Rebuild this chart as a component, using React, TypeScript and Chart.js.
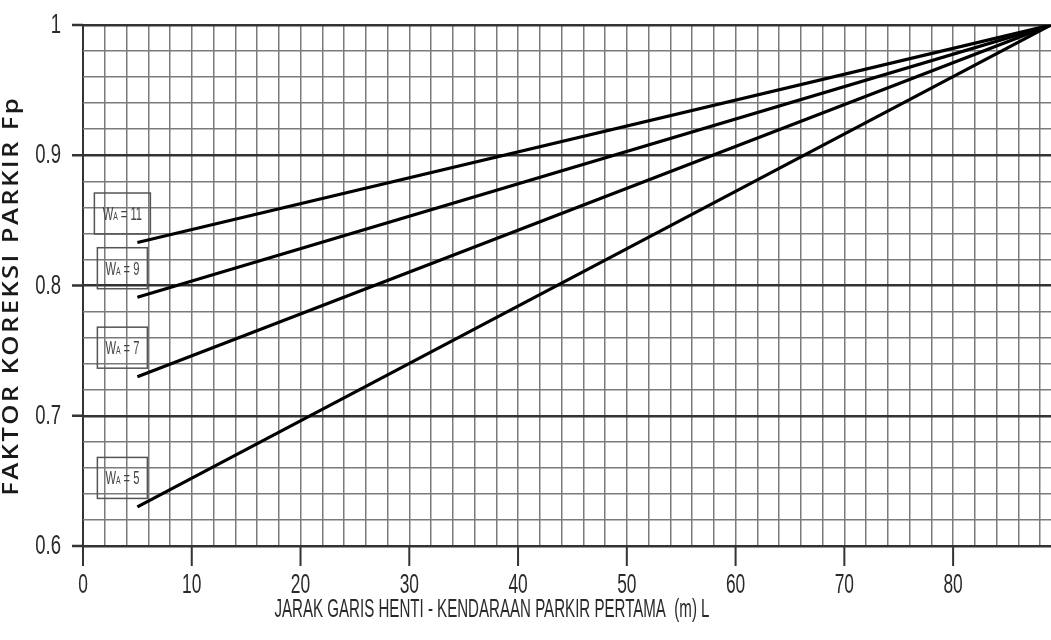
import React, { useEffect, useRef } from "react";
import { Chart, registerables } from "chart.js";

Chart.register(...registerables);

const xValues = [5, 89];
const seriesWA = ["11", "9", "7", "5"];
const fp11 = [0.833, 1];
const fp9 = [0.791, 1];
const fp7 = [0.73, 1];
const fp5 = [0.63, 1];
const xTickLabels = [0, 10, 20, 30, 40, 50, 60, 70, 80];
const yTickLabels = [0.6, 0.7, 0.8, 0.9, 1];
const xTitle = "JARAK GARIS HENTI - KENDARAAN PARKIR PERTAMA  (m) L";
const yTitle = "FAKTOR KOREKSI PARKIR Fp";

const SANS = "'Liberation Sans', Arial, sans-serif";

const near = (v: number, arr: number[]) => arr.some((a) => Math.abs(a - v) < 1e-6);

function squeezed(ctx: CanvasRenderingContext2D, text: string, x: number, y: number, align: CanvasTextAlign, sx: number) {
  ctx.save();
  ctx.translate(x, y);
  ctx.scale(sx, 1);
  ctx.textAlign = align;
  ctx.fillText(text, 0, 0);
  ctx.restore();
}

const labelPlugin = {
  id: "waLabels",
  afterDatasetsDraw(chart: any) {
    const ctx = chart.ctx as CanvasRenderingContext2D;
    chart.data.datasets.forEach((ds: any, i: number) => {
      const meta = chart.getDatasetMeta(i);
      const p = meta.data[0];
      if (!p) return;
      const cx = p.x - 15;
      const cy = p.y - 29;
      const w = i === 0 ? 56 : 50;
      const h = 41;
      ctx.save();
      ctx.strokeStyle = "#555";
      ctx.lineWidth = 1.5;
      ctx.strokeRect(cx - w / 2, cy - h / 2, w, h);
      ctx.fillStyle = "#444";
      ctx.textBaseline = "alphabetic";
      const sx = 0.62;
      const big = "18px " + SANS;
      const small = "11px " + SANS;
      const rest = " = " + ds.waValue;
      ctx.font = big;
      const wW = ctx.measureText("W").width * sx;
      const wRest = ctx.measureText(rest).width * sx;
      ctx.font = small;
      const wA = ctx.measureText("A").width * sx;
      const total = wW + wA + wRest;
      let x = cx - total / 2;
      const base = cy + 6.5;
      ctx.font = big;
      squeezed(ctx, "W", x, base, "left", sx);
      x += wW;
      ctx.font = small;
      squeezed(ctx, "A", x, base, "left", sx);
      x += wA;
      ctx.font = big;
      squeezed(ctx, rest, x, base, "left", sx);
      ctx.restore();
    });
  },
  afterDraw(chart: any) {
    const ctx = chart.ctx as CanvasRenderingContext2D;
    const area = chart.chartArea;
    const xs = chart.scales.x;
    const ys = chart.scales.y;
    ctx.save();
    ctx.setLineDash([]);
    ctx.fillStyle = "#333";
    xTickLabels.forEach((v) => {
      const px = xs.getPixelForValue(v);
      ctx.fillRect(px - 1, area.bottom, 2, 20);
    });
    yTickLabels.forEach((v) => {
      const py = ys.getPixelForValue(v);
      ctx.fillRect(area.left - 11, py - 1.25, 11, 2.5);
    });
    ctx.fillStyle = "#2a2a2a";
    ctx.font = "28px " + SANS;
    ctx.textBaseline = "alphabetic";
    xTickLabels.forEach((v) => {
      squeezed(ctx, String(v), xs.getPixelForValue(v), 593, "center", 0.62);
    });
    yTickLabels.forEach((v) => {
      squeezed(ctx, String(v), 61, ys.getPixelForValue(v) + 8, "right", 0.66);
    });
    ctx.font = "25px " + SANS;
    const tw = ctx.measureText(xTitle).width;
    squeezed(ctx, xTitle, 492, 617, "center", 435 / tw);
    ctx.translate(12, 297);
    ctx.rotate(-Math.PI / 2);
    ctx.font = "600 22px 'Open Sans', 'DejaVu Sans', sans-serif";
    (ctx as any).letterSpacing = "2px";
    const mw = ctx.measureText(yTitle).width;
    const target = 400;
    ctx.scale(target / mw, 1);
    ctx.textAlign = "center";
    ctx.textBaseline = "middle";
    ctx.fillStyle = "#1a1a1a";
    ctx.fillText(yTitle, 1, 0);
    ctx.restore();
  },
};

export default function App() {
  const ref = useRef<HTMLCanvasElement>(null);
  useEffect(() => {
    document.body.style.margin = "0";
    const series = [fp11, fp9, fp7, fp5];
    const chart = new Chart(ref.current!, {
      type: "line",
      data: {
        datasets: series.map((s, i) => ({
          label: "WA = " + seriesWA[i],
          waValue: seriesWA[i],
          data: xValues.map((x, j) => ({ x, y: s[j] })),
          borderColor: "#000",
          borderWidth: 3.2,
          pointRadius: 0,
          fill: false,
        })) as any,
      },
      options: {
        animation: false,
        responsive: false,
        maintainAspectRatio: false,
        layout: { padding: { top: 25, right: 0, left: 0, bottom: 0 } },
        plugins: { legend: { display: false }, tooltip: { enabled: false } },
        scales: {
          x: {
            type: "linear",
            min: 0,
            max: 89,
            afterFit: (s: any) => {
              s.height = 94;
            },
            afterBuildTicks: (s: any) => {
              const t = [];
              for (let v = 0; v <= 88; v += 2) t.push({ value: v });
              s.ticks = t;
            },
            ticks: { display: false },
            border: { display: false },
            grid: {
              drawTicks: false,
              color: (c: any) => (c.tick && c.tick.value === 0 ? "#333" : "#7a7a7a"),
              lineWidth: (c: any) => (c.tick && c.tick.value === 0 ? 2 : 1.5),
            },
          },
          y: {
            type: "linear",
            min: 0.6,
            max: 1,
            afterFit: (s: any) => {
              s.width = 83;
            },
            afterBuildTicks: (s: any) => {
              const t = [];
              for (let k = 0; k <= 20; k++) t.push({ value: Math.round((0.6 + k * 0.02) * 1000) / 1000 });
              s.ticks = t;
            },
            ticks: { display: false },
            border: { display: false },
            grid: {
              drawTicks: false,
              color: (c: any) => (c.tick && near(c.tick.value, yTickLabels) ? "#333" : "#7a7a7a"),
              lineWidth: (c: any) => (c.tick && near(c.tick.value, yTickLabels) ? 2.5 : 1.5),
            },
          },
        },
      },
      plugins: [labelPlugin],
    });
    return () => chart.destroy();
  }, []);
  return (
    <div style={{ width: 1051, height: 640, background: "#fff" }}>
      <canvas ref={ref} width={1051} height={640} style={{ display: "block" }} />
    </div>
  );
}
